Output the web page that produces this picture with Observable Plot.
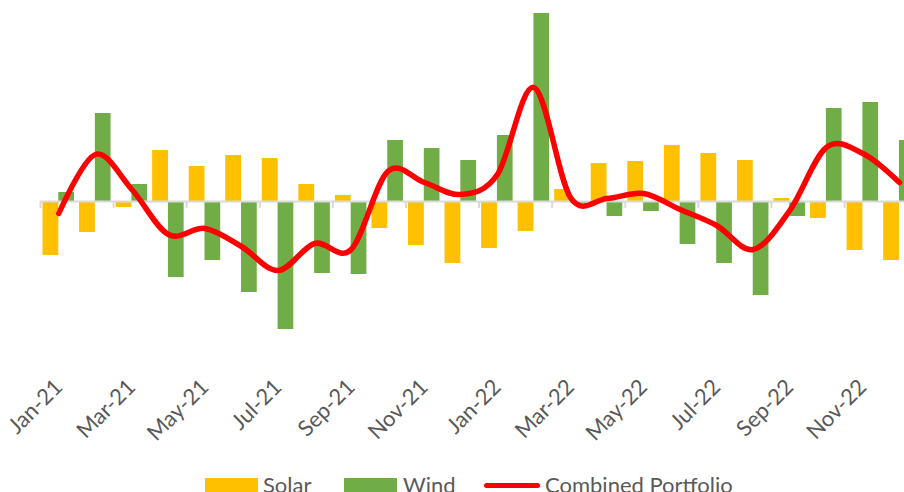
<!DOCTYPE html>
<html>
<head>
<meta charset="utf-8">
<script src="https://cdn.jsdelivr.net/npm/d3@7"></script>
<script src="https://cdn.jsdelivr.net/npm/@observablehq/plot@0.6"></script>
<style>
  html, body { margin: 0; padding: 0; background: #fff; overflow: hidden; width: 904px; height: 492px; }
  #chart { position: absolute; left: 0; top: 0; width: 904px; height: 470px; }
  #legend { position: absolute; left: 0; top: 0; width: 904px; height: 492px; pointer-events: none; font-family: Lato, "Open Sans", sans-serif; color: #595959; }
  #legend .sw { position: absolute; top: 478px; width: 53px; height: 16px; }
  #legend .ln { position: absolute; top: 483.2px; width: 56px; height: 5px; border-radius: 2.5px; }
  #legend .lb { position: absolute; top: 474px; font-size: 22px; line-height: 22px; white-space: nowrap; }
</style>
</head>
<body>
<div id="chart"></div>
<div id="legend"></div>
<script>
// ---- data ----
const months = ["Jan-21","Feb-21","Mar-21","Apr-21","May-21","Jun-21","Jul-21","Aug-21","Sep-21","Oct-21","Nov-21","Dec-21",
                "Jan-22","Feb-22","Mar-22","Apr-22","May-22","Jun-22","Jul-22","Aug-22","Sep-22","Oct-22","Nov-22","Dec-22"];
const solar = [-5.4, -3.1, -0.6, 5.1, 3.5, 4.6, 4.3, 1.7, 0.6, -2.7, -4.4, -6.2,
               -4.7, -3.0, 1.2, 3.8, 4.0, 5.6, 4.8, 4.1, 0.3, -1.7, -4.9, -5.9];
const wind = [0.9, 8.8, 1.7, -7.6, -5.9, -9.1, -12.8, -7.2, -7.3, 6.1, 5.3, 4.1,
              6.6, 18.8, -0.2, -1.5, -1.0, -4.3, -6.2, -9.4, -1.5, 9.3, 9.9, 6.1];
const combined = [-1.2, 4.7, 1.2, -3.3, -2.7, -4.5, -6.9, -4.2, -4.8, 3.0, 1.9, 0.7,
                  2.7, 11.4, 0.4, 0.3, 0.8, -0.8, -2.4, -4.8, -0.9, 5.4, 4.8, 1.9];
const tickLabels = ["Jan-21","Mar-21","May-21","Jul-21","Sep-21","Nov-21","Jan-22","Mar-22","May-22","Jul-22","Sep-22","Nov-22"];
const seriesNames = ["Solar", "Wind", "Combined Portfolio"];
const seriesColors = ["#FFC000", "#70AD47", "#FF0000"];

const rows = months.map((m, i) => ({month: m, solar: solar[i], wind: wind[i], combined: combined[i]}));

const xRange = [40, 917.2];
const bw = (xRange[1] - xRange[0]) / months.length;

const plot = Plot.plot({
  width: 904,
  height: 470,
  marginLeft: 40,
  marginRight: 0,
  marginTop: 0,
  marginBottom: 87,
  x: {domain: months, range: xRange, padding: 0, round: false, axis: null, label: null},
  y: {domain: [-18.2, 20.1], axis: null, label: null},
  style: {fontFamily: "Lato, 'Open Sans', sans-serif", background: "white", overflow: "hidden"},
  marks: [
    Plot.barY(rows, {x: "month", y: "solar", fill: seriesColors[0], insetLeft: 2.5, insetRight: bw - 18.3}),
    Plot.barY(rows, {x: "month", y: "wind", fill: seriesColors[1], insetLeft: 18.3, insetRight: 2.55}),
    Plot.ruleY([0], {stroke: "#D9D9D9", strokeWidth: 2}),
    Plot.ruleX(tickLabels, {x: d => d, y1: 0, y2: 0, insetBottom: -7, dx: -bw / 2, stroke: "#D9D9D9", strokeWidth: 2}),
    Plot.line(rows, {x: "month", y: "combined", curve: "cardinal", stroke: seriesColors[2], strokeWidth: 5.5,
                     strokeLinecap: "round", strokeLinejoin: "round"}),
    Plot.axisX(tickLabels, {tickSize: 0, tickPadding: 0, tickRotate: -45, textAnchor: "end", lineAnchor: "middle",
                            fontSize: 22, fill: "#595959", label: null})
  ]
});
document.getElementById("chart").appendChild(plot);

// ---- legend (below the plot) ----
const legend = document.getElementById("legend");
const legendItems = [
  {kind: "sw", left: 205, textLeft: 263},
  {kind: "sw", left: 344, textLeft: 403},
  {kind: "ln", left: 484, textLeft: 545}
];
legendItems.forEach((it, i) => {
  const s = document.createElement("div");
  s.className = it.kind;
  s.style.left = it.left + "px";
  s.style.background = seriesColors[i];
  legend.appendChild(s);
  const t = document.createElement("div");
  t.className = "lb";
  t.style.left = it.textLeft + "px";
  t.textContent = seriesNames[i];
  legend.appendChild(t);
});
</script>
</body>
</html>
